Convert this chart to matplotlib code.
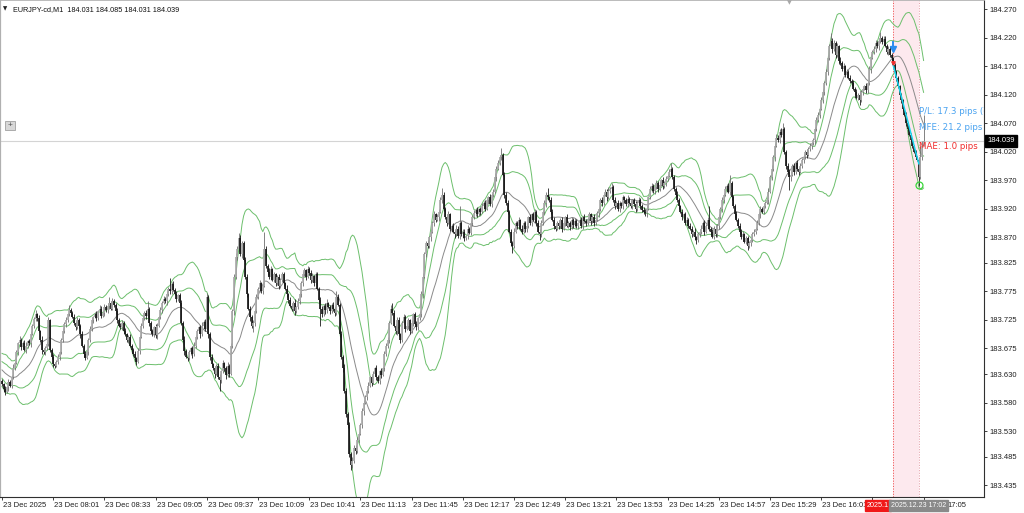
import numpy as np
import pandas as pd
import matplotlib
matplotlib.use("Agg")
import matplotlib.pyplot as plt
from matplotlib.patches import Rectangle
import matplotlib.transforms as mtransforms

plt.rcParams['font.family'] = ['Liberation Sans', 'DejaVu Sans']

# ---------------- data (prices in thousandths of a yen above BASE) ----------------
BASE = 183.0
symbol = "EURJPY-cd,M1"
last_ohlc = [184.031, 184.085, 184.031, 184.039]

# 19 bars before the first visible bar (only feed the band indicator)
pre_closes = [660, 655, 650, 658, 645, 650, 640, 648, 652, 638, 630, 640, 635, 628, 620, 630, 622, 615, 618]

closes = (
    [612, 604, 598, 607, 616, 610] + [625, 640, 650] + [668, 684, 690] +
    [678, 685, 672, 680, 688, 684] + [700, 715, 726, 735, 728] + [705, 690, 672, 668] +
    [676, 682] + [725, 672] + [660, 648, 645, 652] + [660, 668] +
    [690, 705, 718, 725, 735, 742, 738, 730] + [720, 712, 725, 715, 700] +
    [680, 665, 658, 668] + [690, 710, 725, 730] + [735, 728, 740, 745, 732, 738, 748, 742] +
    [750, 755, 745, 758, 752, 740] + [725, 715, 712] +
    [720, 705, 700, 690, 695, 680, 672, 665, 658, 652] + [670, 695, 715, 728, 738, 732] +
    [745] + [720, 705, 700, 712, 698] + [715, 730, 742, 755, 762, 758, 770] +
    [780, 775, 788, 778] + [770, 762, 768, 755] + [720, 690, 670, 660, 658] +
    [668, 675, 665] + [680, 695, 705, 712, 700, 715, 722, 710] + [765, 700, 660, 648] +
    [640, 630, 645, 625, 620] + [635, 650, 640, 628, 645, 630] +
    [680, 740, 800, 835, 850, 868] + [840, 860, 830] + [800, 770, 745, 730, 715, 720] +
    [740, 765, 780, 790, 775, 785] + [850, 820] + [810, 800, 815, 795] +
    [805, 790, 800, 785, 795, 805, 790, 780] + [770, 760, 750, 745, 755, 740, 748, 758] +
    [770, 790, 805, 812, 800, 815, 808, 795, 802] + [790, 805, 780] +
    [760, 745, 735, 750, 742, 755, 748, 740, 752, 745, 738] + [765, 752] +
    [700, 660, 640] + [600, 560, 540] + [490, 470, 478] + [500, 495, 515, 525, 540] +
    [565, 580, 590, 600] + [610, 625, 615, 630] + [640, 625, 618, 635, 628, 640] +
    [665, 680, 690] + [720, 745, 738] + [715, 705, 725, 700, 690, 720, 730, 710, 715] +
    [725, 705, 720, 735, 718, 712, 728, 735] + [770, 800] + [840, 860, 855, 870] +
    [880, 895, 910, 900, 905, 915, 935, 945] + [920, 905, 895, 910, 885, 890, 880] +
    [875, 885, 872, 895] + [875, 880, 868, 872, 885, 878] + [895, 905, 912, 918, 910, 920, 915] +
    [925, 930, 920, 935, 940, 928, 945, 950] + [975, 990, 1000, 1010, 1015] +
    [980, 945, 930, 915] + [880, 860, 855] + [880, 895, 890, 900, 885] +
    [880, 895, 885, 890, 905, 895] + [910, 900, 915, 895] + [880, 875] +
    [895, 915, 930, 945, 940, 935] + [915, 900, 890, 885, 895] +
    [890, 900, 885, 895, 905, 890, 895, 888, 900, 892, 898, 890] +
    [895, 900, 890, 905, 898, 895, 902, 910, 898, 905, 895, 900, 912] +
    [920, 935, 930, 945, 950, 940, 952, 955] + [958, 935, 925, 930, 920] +
    [930, 925, 940, 935, 928, 938, 930, 925, 935, 928, 920, 930, 935, 925, 918, 915] +
    [912, 920] + [940, 955, 960, 952] + [958, 965, 955, 962, 970, 960, 965, 972, 978, 985, 990] +
    [975, 955, 945, 935] + [925, 915, 905, 910, 895, 900, 890, 885] +
    [875, 880, 870, 865, 875, 880] + [885, 895, 880, 890, 900, 885] + [880, 870, 885, 875, 890] +
    [905, 920, 935, 945, 955, 960, 950, 965] + [940, 925, 910, 900] +
    [890, 880, 870, 875, 862, 868] + [855, 860] + [865, 875, 880, 885, 895] +
    [910, 920, 915, 925, 930, 935] + [950, 975, 990, 1010] + [1030, 1045, 1040, 1055, 1050, 1060] +
    [1020, 995, 985, 975] + [980, 995, 985, 1000, 990, 985, 995, 1005] +
    [1010, 1020, 1015, 1025, 1030, 1035, 1040] + [1060, 1075, 1085, 1095] +
    [1110, 1125, 1140, 1160, 1185] + [1205, 1215, 1200] + [1210, 1190, 1205, 1180, 1175] +
    [1165, 1170, 1155, 1160, 1150, 1145] + [1140, 1130, 1125, 1115, 1120, 1110, 1125, 1130] +
    [1135, 1128, 1140] + [1165, 1185, 1195] + [1200, 1210, 1205, 1215, 1220, 1212, 1218] +
    [1205, 1195, 1200, 1190, 1185] + [1172, 1160] +
    [1150, 1135, 1120, 1110, 1095, 1085, 1070, 1060] + [1050, 1040, 1030, 1020, 1010, 1005] +
    [975, 1010, 1031, 1039]
)

wick_up = [
    4,3,6,2,5,3,4,7,3,5,2,6,4,3,5,6,2,4,5,3,
    4,7,3,5,2,6,3,4,5,5,2,3,6,4,3,5,2,4,6,3,
    5,3,10,4,2,6,3,5,4,3,6,2,5,4,3,5,6,2,4,5,
    3,6,4,2,5,3,4,10,3,5,4,2,6,3,4,5,3,6,2,4,
    5,3,4,6,2,5,3,4,6,3,5,13,2,4,5,3,6,4,2,5,
    3,5,4,6,3,18,4,5,3,6,2,4,5,3,6,4,2,5,3,4,
    6,3,5,2,4,6,3,5,7,3,4,6,2,5,3,4,6,3,5,2,
    4,6,3,5,4,6,8,5,10,6,4,3,5,6,2,4,3,5,4,6,
    3,5,2,4,29,5,3,6,4,2,5,3,4,6,3,5,4,2,6,3,
    5,4,3,6,2,5,4,3,6,5,2,4,3,5,6,2,4,5,3,6,
    4,3,5,6,2,4,3,5,4,10,5,3,6,4,8,5,3,6,4,7,
    5,6,4,3,5,6,4,3,5,6,2,4,5,3,6,4,2,5,3,6,
    4,5,3,6,10,4,3,5,6,2,4,5,3,6,4,2,5,3,4,6,
    3,5,6,8,5,4,6,3,5,4,6,3,5,4,6,11,4,3,5,6,
    2,4,5,3,6,4,30,3,5,4,2,6,3,5,4,6,3,5,2,4,
    6,3,5,4,2,6,3,5,7,5,6,4,12,3,5,4,6,3,5,4,
    6,3,4,5,2,6,3,4,5,3,6,2,4,5,3,6,4,5,3,6,
    4,11,3,5,4,6,2,4,5,3,6,4,2,5,3,4,6,3,5,4,
    2,4,5,3,6,4,2,5,3,4,6,3,5,2,4,6,3,5,4,6,
    3,7,4,5,3,6,4,2,5,3,4,6,3,5,2,4,6,3,5,4,
    3,5,4,6,3,5,6,4,3,5,4,6,3,5,4,6,3,5,10,4,
    5,3,6,4,2,5,3,4,6,3,5,4,2,6,3,5,4,6,3,5,
    4,6,25,3,5,4,6,3,5,4,6,3,5,4,6,14,3,5,4,6,
    3,5,4,6,2,4,5,3,6,4,5,3,6,4,5,3,6,4,5,6,
    5,6,4,5,6,4,5,6,10,4,3,5,4,6,3,5,4,6,3,5,
    4,6,3,5,4,6,3,5,4,6,5,4,6,5,4,6,5,4,13,5,
    6,4,5,3,6,4,5,3,6,4,5,3,6,4,5,3,6,4,5,3,
    6,4,5,6,4,5,6,4,5,10,4,6,5,4,6,5,4,0,4,3,
    3,2,4,3,2,4,3,2,3,4,2,3,2,5,20,8,46,
]

wick_dn = [
    3,5,4,2,6,3,5,4,2,3,5,4,6,3,2,5,4,3,6,2,
    4,3,5,2,4,6,3,5,4,2,3,4,6,5,3,4,5,2,4,3,
    5,4,3,6,2,4,5,3,4,6,3,5,4,2,5,3,4,6,2,4,
    3,5,4,2,6,3,4,5,3,2,5,4,6,3,2,4,5,3,4,6,
    2,5,3,4,6,3,5,2,4,3,5,4,6,2,3,5,4,6,3,4,
    5,2,4,6,3,5,4,3,2,6,4,5,3,4,6,2,5,3,4,6,
    3,5,4,2,6,3,5,4,3,6,5,4,3,6,2,4,20,5,3,4,
    6,3,5,2,4,6,3,5,4,3,6,2,4,5,3,6,4,11,5,3,
    4,6,2,5,3,4,6,3,5,2,4,6,3,5,4,3,6,2,4,5,
    3,5,4,6,2,3,5,4,6,3,5,2,4,6,3,5,4,3,5,30,
    4,3,6,5,2,4,3,5,6,4,3,5,4,6,3,5,4,6,8,5,
    4,6,3,5,2,4,6,3,5,4,3,6,2,4,5,3,6,4,2,5,
    3,4,6,2,5,3,4,6,3,5,4,2,6,3,5,4,3,6,2,4,
    5,3,4,6,2,5,3,4,6,3,5,4,2,6,3,5,4,3,6,2,
    4,5,3,6,2,4,5,3,6,4,3,5,2,4,6,3,5,4,2,6,
    3,5,4,2,6,3,5,4,3,6,2,4,5,3,6,4,5,3,6,12,
    4,3,5,6,2,4,3,5,6,4,3,5,2,4,6,3,10,4,3,5,
    6,4,3,5,2,6,4,3,5,4,6,3,5,2,4,6,3,5,4,3,
    5,3,4,6,2,5,3,4,6,3,5,4,2,6,3,5,4,3,6,2,
    4,5,3,6,2,4,5,3,6,4,3,5,2,4,6,3,5,4,2,6,
    3,5,4,6,2,3,5,4,6,3,5,4,2,6,3,5,4,3,6,2,
    4,5,3,6,2,4,5,3,6,4,3,5,2,4,7,3,5,4,2,6,
    3,5,4,6,2,3,5,4,6,3,5,4,2,6,3,5,4,3,6,2,
    4,5,3,6,2,4,7,3,6,4,3,5,2,4,6,3,5,4,2,6,
    3,5,4,6,2,3,5,4,6,3,5,4,22,6,3,5,4,3,6,2,
    4,5,3,6,2,4,5,3,6,4,3,5,2,4,6,3,5,4,2,6,
    3,5,4,6,2,3,5,4,6,3,5,4,2,6,3,5,8,3,6,2,
    4,5,3,6,2,4,5,3,6,4,3,5,2,4,6,3,5,4,2,6,
    3,2,4,3,2,4,3,2,3,4,2,3,2,15,3,4,0,
]

# time labels every 32 M1 bars; '' where the reference's label is hidden behind the line labels
time_labels = ["23 Dec 2025", "23 Dec 08:01", "23 Dec 08:33", "23 Dec 09:05", "23 Dec 09:37",
               "23 Dec 10:09", "23 Dec 10:41", "23 Dec 11:13", "23 Dec 11:45", "23 Dec 12:17",
               "23 Dec 12:49", "23 Dec 13:21", "23 Dec 13:53", "23 Dec 14:25", "23 Dec 14:57",
               "23 Dec 15:29", "23 Dec 16:01", "", ""]
label_every = 32
last_time_visible = "17:05"

price_ticks = [184.270, 184.220, 184.170, 184.120, 184.070, 184.020, 183.970, 183.920, 183.870,
               183.825, 183.775, 183.725, 183.675, 183.630, 183.580, 183.530, 183.485, 183.435]

# trade
entry_bar, exit_bar = 557, 573
entry_price, exit_price, mfe_price = 184.172, 183.999, 183.960
entry_label_visible, exit_label = "2025.1", "2025.12.23 17:02"
trade_texts = ["P/L: 17.3 pips (¥)", "MFE: 21.2 pips", "MAE: 1.0 pips"]
trade_text_prices = [184.091, 184.062, 184.030]

assert len(closes) == len(wick_up) == len(wick_dn) == 577, (len(closes), len(wick_up), len(wick_dn))

# ---------------- derived series ----------------
n = len(closes)
c = BASE + np.array(closes) / 1000.0
o = BASE + np.array([pre_closes[-1]] + closes[:-1]) / 1000.0
o[-1] = last_ohlc[0]
hi = np.maximum(o, c) + np.array(wick_up) / 1000.0
lo = np.minimum(o, c) - np.array(wick_dn) / 1000.0
hi[-1], lo[-1], c[-1] = last_ohlc[1], last_ohlc[2], last_ohlc[3]

full = pd.Series(BASE + np.array(pre_closes + closes) / 1000.0)
mid = full.rolling(20).mean().to_numpy()[-n:]
sd = full.rolling(20).std(ddof=0).to_numpy()[-n:]
x = np.arange(n)

# ---------------- figure ----------------
W, H = 1024, 513
fig = plt.figure(figsize=(W / 100, H / 100), dpi=100)
ax = fig.add_axes([0 / W, 16 / H, 984 / W, 497 / H])
ax.set_facecolor('white')

ax.set_xlim(-2 / 1.6, (984 - 2) / 1.6)
ax.set_ylim(183.4144, 184.2863)

# trade zone
ax.axvspan(entry_bar, exit_bar, color='#fde9ee', zorder=0, lw=0)
ax.axvline(entry_bar, color='#f05a5a', lw=0.7, ls=(0, (1.2, 1.5)), zorder=1)
ax.axvline(exit_bar, color='#e8a6b0', lw=0.7, ls=(0, (1.2, 1.5)), zorder=1)

# bid line
ax.axhline(last_ohlc[3], color='#d4d4d4', lw=0.8, zorder=1)

# bands
green = '#6cbf6c'
for k in (2, 1, -1, -2):
    ax.plot(x, mid + k * sd, color=green, lw=0.7, zorder=2)
ax.plot(x, mid, color='#8a8a8a', lw=0.7, zorder=2)

# candles
bull = c >= o
wcol = np.where(bull, '#6e6e6e', '#1a1a1a')
bcol = np.where(bull, '#aaaaaa', '#1a1a1a')
ax.vlines(x, lo, hi, colors=wcol, lw=0.6, zorder=3)
body_lo = np.minimum(o, c)
body_hi = np.maximum(np.maximum(o, c), body_lo + 0.0012)
ax.vlines(x, body_lo, body_hi, colors=bcol, lw=1.25, zorder=4)

# trade line and markers
ax.plot([entry_bar, exit_bar], [entry_price, exit_price], color='#19d7f0', lw=1.1, zorder=5)
ax.plot([entry_bar], [entry_price + 0.028], marker='v', color='#2b8cf0', ms=4.5, zorder=6)
ax.plot([entry_bar, entry_bar], [entry_price + 0.030, entry_price + 0.040], color='#2b8cf0', lw=1.4, zorder=6)
ax.plot([entry_bar], [entry_price + 0.004], marker='v', color='#f03030', ms=2.5, zorder=6)
ax.plot([exit_bar], [mfe_price + 0.002], marker='o', mfc='none', mec='#3ad63a', ms=5, mew=0.9, zorder=6)

tcolors = ['#4aa3f0', '#4aa3f0', '#f02a2a']
for t, p, col in zip(trade_texts, trade_text_prices, tcolors):
    ax.text(exit_bar + 0.4, p, t, color=col, fontsize=6.2, va='center', ha='left',
            clip_on=True, zorder=7, family=['DejaVu Sans'])

# axes styling
for s in ('left', 'top'):
    ax.spines[s].set_color('#b0b0b0')
ax.spines['left'].set_linewidth(1.6)
ax.spines['top'].set_linewidth(0.6)
ax.spines['right'].set_color('#303030')
ax.spines['bottom'].set_color('#303030')
ax.spines['right'].set_linewidth(0.8)
ax.spines['bottom'].set_linewidth(0.8)

ax.yaxis.tick_right()
ax.set_yticks(price_ticks)
ax.set_yticklabels([f"{v:.3f}" for v in price_ticks])
ax.tick_params(axis='y', length=2.2, width=0.6, pad=1.5, labelsize=5.5, colors='#202020')

xt = np.arange(len(time_labels)) * label_every
ax.set_xticks(xt)
ax.set_xticklabels(time_labels, ha='left')
ax.tick_params(axis='x', length=2.2, width=0.6, pad=1.5, labelsize=5.5, colors='#202020')
offset = mtransforms.ScaledTranslation(1 / 100, 0, fig.dpi_scale_trans)
for lbl in ax.get_xticklabels():
    lbl.set_transform(lbl.get_transform() + offset)

# current price box
ax.annotate(f"{last_ohlc[3]:.3f}", xy=(1.0, last_ohlc[3]), xycoords=('axes fraction', 'data'),
            xytext=(2.2, 0), textcoords='offset points', ha='left', va='center', fontsize=5.5,
            color='white', bbox=dict(boxstyle='square,pad=0.3', fc='black', ec='black'),
            annotation_clip=False, zorder=8)

# bottom labels of the trade lines (pixel positions along the time axis)
ylab = 1 - 505.5 / H
fig.text(867 / W, ylab, entry_label_visible, ha='left', va='center', fontsize=5.2,
         color='white', bbox=dict(boxstyle='square,pad=0.22', fc='#f01818', ec='#f01818'), zorder=9)
fig.text(918.5 / W, ylab, exit_label, ha='center', va='center', fontsize=5.0,
         color='white', bbox=dict(boxstyle='square,pad=0.22', fc='#8a8a8a', ec='#8a8a8a'), zorder=10)
fig.text(947 / W, ylab, last_time_visible, ha='left', va='center', fontsize=5.5, color='#202020')

# header
fig.text(13 / W, 1 - 9.5 / H, f"{symbol}  " + " ".join(f"{v:.3f}" for v in last_ohlc),
         fontsize=5.25, va='center', ha='left', color='#101010')
fig.text(5.5 / W, 1 - 9 / H, "▼", fontsize=4, va='center', ha='center', color='#202020',
         family=['DejaVu Sans'])
fig.text(789 / W, 1 - 2.5 / H, "▼", fontsize=4.5, va='center', ha='center', color='#a8a8a8',
         family=['DejaVu Sans'])

# small "+" button
fig.patches.append(Rectangle((5 / W, 1 - 130 / H), 10 / W, 9 / H, transform=fig.transFigure,
                             fc='#d8d8d8', ec='#a0a0a0', lw=0.6))
fig.text(10 / W, 1 - 125.5 / H, "+", fontsize=6, va='center', ha='center', color='#505050')

fig.savefig("out.png", dpi=100, facecolor='white')
